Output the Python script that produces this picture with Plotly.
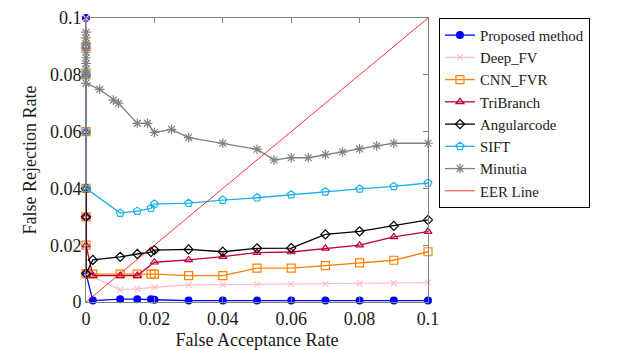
import plotly.graph_objects as go

# ---------------- data ----------------
far_proposed = [0, 0, 0.002, 0.01, 0.015, 0.019, 0.02, 0.03, 0.04, 0.05, 0.06, 0.07, 0.08, 0.09, 0.1]
frr_proposed = [0.1, 0.01, 0.0005, 0.001, 0.001, 0.001, 0.0008, 0.0005, 0.0005, 0.0005, 0.0005, 0.0005, 0.0005, 0.0005, 0.0005]

far_deepfv = [0, 0, 0.01, 0.015, 0.02, 0.03, 0.04, 0.05, 0.06, 0.07, 0.08, 0.09, 0.1]
frr_deepfv = [0.1, 0.01, 0.0043, 0.0046, 0.0052, 0.0060, 0.0061, 0.0062, 0.0063, 0.0064, 0.0065, 0.0066, 0.0068]

far_cnn = [0, 0, 0, 0, 0, 0, 0, 0.002, 0.01, 0.015, 0.019, 0.02, 0.03, 0.04, 0.05, 0.06, 0.07, 0.08, 0.09, 0.1]
frr_cnn = [0.09, 0.08, 0.06, 0.04, 0.03, 0.02, 0.01, 0.0098, 0.0098, 0.0098, 0.0098, 0.0098, 0.0093, 0.0093,
           0.0119, 0.0119, 0.0128, 0.0138, 0.0147, 0.0177]

far_tri = [0, 0, 0, 0, 0, 0, 0.002, 0.01, 0.015, 0.02, 0.03, 0.04, 0.05, 0.06, 0.07, 0.08, 0.09, 0.1]
frr_tri = [0.09, 0.08, 0.06, 0.04, 0.03, 0.02, 0.0093, 0.0093, 0.0093, 0.0140, 0.0148, 0.0160, 0.0174,
           0.0176, 0.0189, 0.0200, 0.0229, 0.0248]

far_ang = [0, 0, 0, 0.002, 0.01, 0.015, 0.019, 0.02, 0.03, 0.04, 0.05, 0.06, 0.07, 0.08, 0.09, 0.1]
frr_ang = [0.04, 0.03, 0.01, 0.0148, 0.0159, 0.0169, 0.0176, 0.0183, 0.0185, 0.0177, 0.0189, 0.0190,
           0.0238, 0.0249, 0.0268, 0.0289]

far_sift = [0, 0, 0, 0, 0.01, 0.015, 0.019, 0.02, 0.03, 0.04, 0.05, 0.06, 0.07, 0.08, 0.09, 0.1]
frr_sift = [0.09, 0.08, 0.06, 0.04, 0.0313, 0.0320, 0.0330, 0.0345, 0.0348, 0.0359, 0.0367, 0.0378,
            0.0388, 0.0398, 0.0407, 0.0419]

far_min = [0, 0, 0, 0, 0, 0, 0, 0, 0, 0.004, 0.008, 0.0095, 0.015, 0.018, 0.02, 0.025, 0.03, 0.04,
           0.05, 0.055, 0.06, 0.065, 0.07, 0.075, 0.08, 0.085, 0.09, 0.1]
frr_min = [0.095, 0.093, 0.091, 0.088, 0.086, 0.084, 0.082, 0.08, 0.077, 0.0749, 0.0711, 0.0700,
           0.0629, 0.0629, 0.0597, 0.0608, 0.0579, 0.0559, 0.0538, 0.0500, 0.0508, 0.0508, 0.0519,
           0.0528, 0.0539, 0.0550, 0.0559, 0.0559]

far_eer = [0, 0.1]
frr_eer = [0, 0.1]

x_ticks = [0, 0.02, 0.04, 0.06, 0.08, 0.1]
x_tick_text = ["0", "0.02", "0.04", "0.06", "0.08", "0.1"]
y_ticks = [0, 0.02, 0.04, 0.06, 0.08, 0.1]
y_tick_text = ["0", "0.02", "0.04", "0.06", "0.08", "0.1"]

FONT = "Liberation Serif"
TXT = "#1a1a1a"

fig = go.Figure()

def add(name, x, y, color, symbol, size, lw=1.3, mlw=1.2):
    fig.add_trace(go.Scatter(
        x=x, y=y, name=name, mode="lines+markers",
        line=dict(color=color, width=lw),
        marker=dict(symbol=symbol, size=size, color=color, line=dict(color=color, width=mlw)),
        cliponaxis=False,
    ))

add("Proposed method", far_proposed, frr_proposed, "#0000ff", "circle", 8, mlw=0)
add("Deep_FV", far_deepfv, frr_deepfv, "#ffbfc8", "x-thin-open", 6)
add("CNN_FVR", far_cnn, frr_cnn, "#ff8000", "square-open", 8)
add("TriBranch", far_tri, frr_tri, "#bf0040", "triangle-up-open", 7)
add("Angularcode", far_ang, frr_ang, "#000000", "diamond-open", 7)
add("SIFT", far_sift, frr_sift, "#19b2ea", "pentagon-open", 8)
add("Minutia", far_min, frr_min, "#808080", "asterisk-open", 8)
fig.add_trace(go.Scatter(x=far_eer, y=frr_eer, name="EER Line", mode="lines",
                         line=dict(color="#ff0000", width=0.8), cliponaxis=False))

axis_common = dict(
    showgrid=False, zeroline=False, showline=True, linecolor="#808080", linewidth=1,
    mirror="ticks", ticks="inside", ticklen=5, tickcolor="#808080", tickwidth=1,
    tickfont=dict(family=FONT, size=18, color=TXT), automargin=False,
)

fig.update_layout(
    width=625, height=350, autosize=False,
    margin=dict(l=86, r=197, t=18, b=48),
    paper_bgcolor="white", plot_bgcolor="white",
    font=dict(family=FONT, size=18, color=TXT),
    xaxis=dict(range=[0, 0.1], tickvals=x_ticks, ticktext=x_tick_text,
               title=dict(text="False Acceptance Rate", standoff=8, font=dict(family=FONT, size=18, color=TXT)),
               **axis_common),
    yaxis=dict(range=[0, 0.1], tickvals=y_ticks, ticktext=y_tick_text,
               title=dict(text="False Rejection Rate", standoff=8, font=dict(family=FONT, size=18, color=TXT)),
               **axis_common),
    legend=dict(x=1.032, y=1.0, xanchor="left", yanchor="top",
                bordercolor="#000", borderwidth=1, bgcolor="white",
                font=dict(family=FONT, size=14.8, color=TXT), itemwidth=30, entrywidth=174),
    showlegend=True,
)

fig.write_html("out.html")
